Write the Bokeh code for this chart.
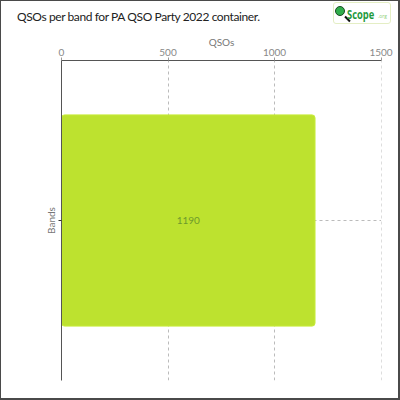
from bokeh.plotting import figure
from bokeh.layouts import column
from bokeh.models import (Range1d, FactorRange, ColumnDataSource, LabelSet, Div,
                          GlobalInlineStyleSheet, FixedTicker)
from bokeh.core.properties import value
from bokeh.embed import file_html
from bokeh.resources import INLINE

# ---- data ----
bands = [" "]
qsos = [1190]
x_ticks = [0, 500, 1000, 1500]
x_max = 1500
title_text = "QSOs per band for PA QSO Party 2022 container."
x_label = "QSOs"
y_label = "Bands"

FONT = "Lato"
BAR = "#bde22f"
HEAD = 30

src = ColumnDataSource(dict(band=bands, qsos=qsos,
                            zero=[0] * len(bands), xmax=[x_max] * len(bands),
                            mid=[q / 2 for q in qsos],
                            lbl=[str(q) for q in qsos]))

p = figure(width=400, height=400 - HEAD, output_backend="svg", toolbar_location=None,
           x_range=Range1d(0, x_max + 2), y_range=FactorRange(factors=bands),
           x_axis_location="above",
           min_border_left=61, min_border_right=19, min_border_top=60 - HEAD,
           min_border_bottom=20)

p.outline_line_color = None
p.background_fill_color = "white"
p.border_fill_color = "white"

# category grid line (drawn under the bar)
p.segment(x0="zero", x1="xmax", y0="band", y1="band", source=src,
          line_color="#bbbbbb", line_dash="3 3", line_width=1)

p.hbar(y="band", right="qsos", left=0, height=0.66, source=src,
       fill_color=BAR, line_color="#c8ec3a", line_width=1,
       border_radius=3)

p.add_layout(LabelSet(x="mid", y="band", text="lbl", source=src,
                      text_align="center", text_baseline="middle",
                      text_font=value(FONT), text_font_size="10px",
                      text_color="#6e9a2c"))

# axes
xa = p.xaxis[0]
xa.ticker = FixedTicker(ticks=x_ticks)
xa.axis_label = x_label
xa.axis_label_text_font = FONT
xa.axis_label_text_font_style = "normal"
xa.axis_label_text_font_size = "10px"
xa.axis_label_text_color = "#777777"
xa.axis_label_standoff = -2
xa.major_label_text_font = FONT
xa.major_label_text_font_size = "10px"
xa.major_label_text_color = "#888888"
xa.major_label_standoff = 2
xa.axis_line_color = "#555555"
xa.major_tick_line_color = "#999999"
xa.major_tick_out = 3
xa.major_tick_in = 0
xa.minor_tick_line_color = None

ya = p.yaxis[0]
ya.axis_label = y_label
ya.axis_label_text_font = FONT
ya.axis_label_text_font_style = "normal"
ya.axis_label_text_font_size = "10px"
ya.axis_label_text_color = "#777777"
ya.axis_label_standoff = 2
ya.major_label_text_font_size = "1px"
ya.major_label_text_color = None
ya.axis_line_color = "#555555"
ya.major_tick_line_color = "#333333"
ya.major_tick_out = 3
ya.major_tick_in = 0

p.xgrid.grid_line_color = "#bbbbbb"
p.xgrid.grid_line_dash = "3 3"
p.ygrid.grid_line_color = None

header_html = f"""
<div style="position:relative;width:400px;height:{HEAD}px;background:white;">
  <span style="position:absolute;left:17px;top:10px;font-family:Lato;font-size:12px;
               letter-spacing:-0.4px;color:#222;white-space:nowrap;line-height:14px;">{title_text}</span>
  <div style="position:absolute;left:333px;top:2px;width:58px;height:22px;
              border:1px solid #e4eec4;border-radius:3px;background:white;overflow:visible;">
    <span style="position:absolute;left:10px;top:15px;width:7px;height:2px;background:#111;
                 transform:rotate(45deg);"></span>
    <span style="position:absolute;left:1px;top:3px;width:10px;height:10px;border-radius:50%;
                 background:#2fae4a;border:1px solid #1a4a22;"></span>
    <span style="position:absolute;left:13px;top:2px;font-family:'Open Sans';
                 font-size:13px;font-weight:bold;color:#1f9a3e;line-height:18px;
                 white-space:nowrap;display:inline-block;transform:scaleX(0.72);
                 transform-origin:0 50%;">Scope</span>
    <span style="position:absolute;left:44px;top:10px;font-family:'Open Sans';font-size:5px;
                 color:#8fcf7a;line-height:7px;white-space:nowrap;">.org</span>
  </div>
</div>
"""
header = Div(text=header_html, width=400, height=HEAD, margin=0)

layout = column(header, p, spacing=0)
layout.stylesheets = [
    GlobalInlineStyleSheet(css="""
html, body { margin: 0 !important; padding: 0; overflow: hidden; background: white; }
html::after { content: ""; position: fixed; left: 0; top: 0; right: 0; bottom: 0;
  border-style: solid; border-color: #4a4a4a; border-width: 1px 2px 2px 1px;
  pointer-events: none; z-index: 99999; }
"""),
]

open("out.html", "w").write(file_html(layout, INLINE))
